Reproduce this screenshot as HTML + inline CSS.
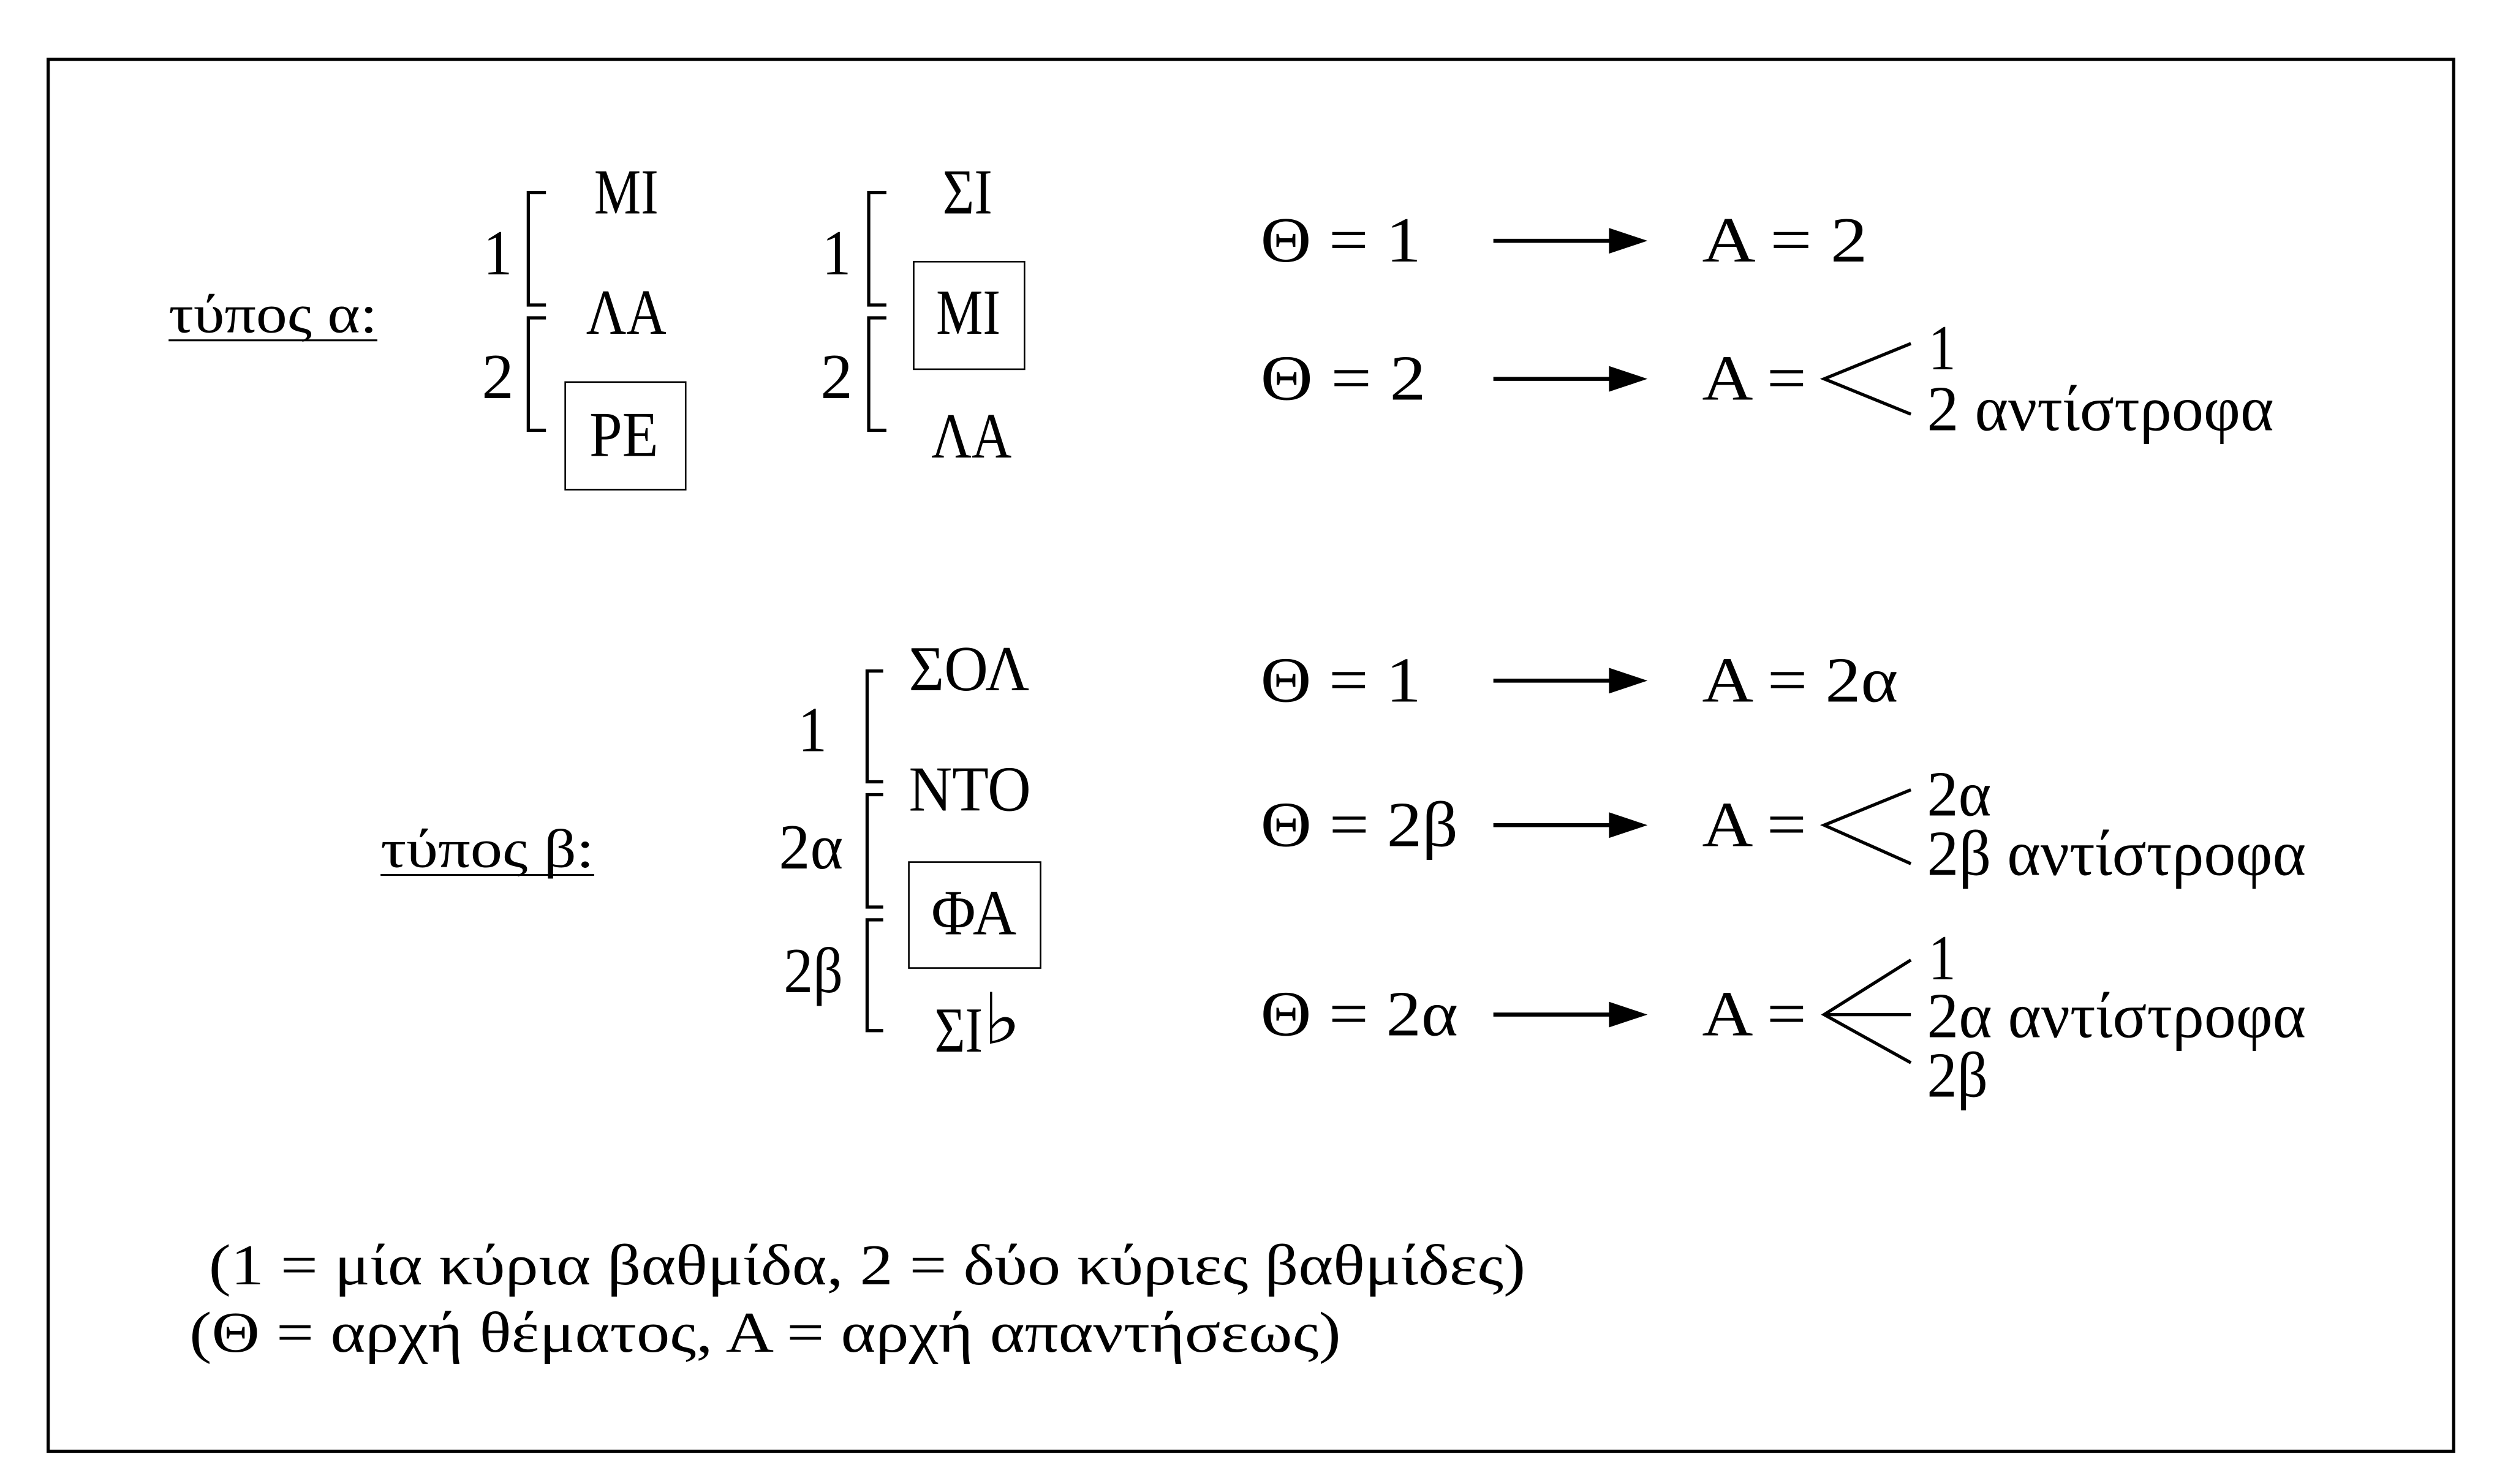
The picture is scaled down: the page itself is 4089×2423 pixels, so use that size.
<!DOCTYPE html>
<html><head><meta charset="utf-8"><style>
html,body{margin:0;padding:0;background:#fff;}
svg{display:block;}
text{font-family:"Liberation Serif",serif;fill:#000;}
</style></head><body>
<svg width="4089" height="2423" viewBox="0 0 1560 924.4" preserveAspectRatio="none" xmlns="http://www.w3.org/2000/svg">
<rect x="0" y="0" width="1560" height="924.4" fill="#fff"/>
<rect x="30" y="37" width="1498" height="867" fill="none" stroke="#000" stroke-width="2"/>
<g font-size="40" stroke="none">
<!-- type a label -->
<text x="105" y="207" textLength="130" lengthAdjust="spacingAndGlyphs" font-size="34">τύπος α:</text>
<line x1="105" y1="212" x2="235" y2="212" stroke="#000" stroke-width="1.2"/>
<!-- col1 -->
<text x="301" y="171" textLength="18" lengthAdjust="spacingAndGlyphs">1</text>
<text x="300" y="248" textLength="20" lengthAdjust="spacingAndGlyphs">2</text>
<text x="370" y="133" textLength="40" lengthAdjust="spacingAndGlyphs">MI</text>
<text x="365" y="208" textLength="50" lengthAdjust="spacingAndGlyphs">ΛΑ</text>
<rect x="352" y="238" width="75" height="67" fill="none" stroke="#000" stroke-width="1"/>
<text x="367" y="284" textLength="43" lengthAdjust="spacingAndGlyphs">PE</text>
<!-- col2 -->
<text x="512" y="171" textLength="18" lengthAdjust="spacingAndGlyphs">1</text>
<text x="511" y="248" textLength="20" lengthAdjust="spacingAndGlyphs">2</text>
<text x="587" y="133" textLength="31" lengthAdjust="spacingAndGlyphs">ΣΙ</text>
<rect x="569" y="163" width="69" height="67" fill="none" stroke="#000" stroke-width="1"/>
<text x="583" y="208" textLength="40" lengthAdjust="spacingAndGlyphs">MI</text>
<text x="580" y="285" textLength="50" lengthAdjust="spacingAndGlyphs">ΛΑ</text>
<!-- rows a -->
<text x="785" y="163" textLength="100" lengthAdjust="spacingAndGlyphs">Θ = 1</text>
<text x="1060" y="163" textLength="103" lengthAdjust="spacingAndGlyphs">A = 2</text>
<text x="785" y="249" textLength="103" lengthAdjust="spacingAndGlyphs">Θ = 2</text>
<text x="1060" y="249" textLength="65" lengthAdjust="spacingAndGlyphs">A =</text>
<text x="1201" y="230" textLength="17" lengthAdjust="spacingAndGlyphs">1</text>
<text x="1200" y="268" textLength="216" lengthAdjust="spacingAndGlyphs">2 αντίστροφα</text>
<!-- type b -->
<text x="237" y="540" textLength="133" lengthAdjust="spacingAndGlyphs" font-size="34">τύπος β:</text>
<line x1="237" y1="545" x2="370" y2="545" stroke="#000" stroke-width="1.2"/>
<text x="497" y="468" textLength="18" lengthAdjust="spacingAndGlyphs">1</text>
<text x="485" y="541" textLength="40" lengthAdjust="spacingAndGlyphs">2α</text>
<text x="488" y="618" textLength="37" lengthAdjust="spacingAndGlyphs">2β</text>
<text x="566" y="430" textLength="75" lengthAdjust="spacingAndGlyphs">ΣΟΛ</text>
<text x="566" y="505" textLength="76" lengthAdjust="spacingAndGlyphs">ΝΤΟ</text>
<rect x="566" y="537" width="82" height="66" fill="none" stroke="#000" stroke-width="1"/>
<text x="580" y="582" textLength="53" lengthAdjust="spacingAndGlyphs">ΦΑ</text>
<text x="582" y="655" textLength="30" lengthAdjust="spacingAndGlyphs">ΣΙ</text>
<text x="612" y="650" textLength="24" lengthAdjust="spacingAndGlyphs" font-size="44">♭</text>
<!-- rows b -->
<text x="785" y="437" textLength="100" lengthAdjust="spacingAndGlyphs">Θ = 1</text>
<text x="1060" y="437" textLength="122" lengthAdjust="spacingAndGlyphs">A = 2α</text>
<text x="785" y="527" textLength="123" lengthAdjust="spacingAndGlyphs">Θ = 2β</text>
<text x="1060" y="527" textLength="65" lengthAdjust="spacingAndGlyphs">A =</text>
<text x="1200" y="508" textLength="40" lengthAdjust="spacingAndGlyphs">2α</text>
<text x="1200" y="545" textLength="236" lengthAdjust="spacingAndGlyphs">2β αντίστροφα</text>
<text x="785" y="645" textLength="123" lengthAdjust="spacingAndGlyphs">Θ = 2α</text>
<text x="1060" y="645" textLength="65" lengthAdjust="spacingAndGlyphs">A =</text>
<text x="1201" y="610" textLength="17" lengthAdjust="spacingAndGlyphs">1</text>
<text x="1200" y="646" textLength="236" lengthAdjust="spacingAndGlyphs">2α αντίστροφα</text>
<text x="1200" y="683" textLength="38" lengthAdjust="spacingAndGlyphs">2β</text>
<!-- footer -->
<text x="130" y="800" textLength="820" lengthAdjust="spacingAndGlyphs" font-size="36">(1 = μία κύρια βαθμίδα, 2 = δύο κύριες βαθμίδες)</text>
<text x="118" y="842" textLength="717" lengthAdjust="spacingAndGlyphs" font-size="36">(Θ = αρχή θέματος, Α = αρχή απαντήσεως)</text>
</g>
<g fill="none" stroke="#000" stroke-width="2">
<polyline points="340,120 329,120 329,190 340,190"/>
<polyline points="340,198 329,198 329,268 340,268"/>
<polyline points="552,120 541,120 541,190 552,190"/>
<polyline points="552,198 541,198 541,268 552,268"/>
<polyline points="550,418 540,418 540,487 550,487"/>
<polyline points="550,495 540,495 540,565 550,565"/>
<polyline points="550,573 540,573 540,642 550,642"/>
<line x1="930" y1="150" x2="1005" y2="150" stroke-width="2.5"/>
<line x1="930" y1="236" x2="1005" y2="236" stroke-width="2.5"/>
<line x1="930" y1="424" x2="1005" y2="424" stroke-width="2.5"/>
<line x1="930" y1="514" x2="1005" y2="514" stroke-width="2.5"/>
<line x1="930" y1="632" x2="1005" y2="632" stroke-width="2.5"/>
<polyline points="1190,214 1136,236 1190,258"/>
<polyline points="1190,492 1136,514 1190,538"/>
<polyline points="1190,598 1136,632 1190,662"/>
<line x1="1136" y1="632" x2="1190" y2="632"/>
</g>
<g fill="#000">
<polygon points="1002,142 1026,150 1002,158"/>
<polygon points="1002,228 1026,236 1002,244"/>
<polygon points="1002,416 1026,424 1002,432"/>
<polygon points="1002,506 1026,514 1002,522"/>
<polygon points="1002,624 1026,632 1002,640"/>
</g>
</svg>
</body></html>
